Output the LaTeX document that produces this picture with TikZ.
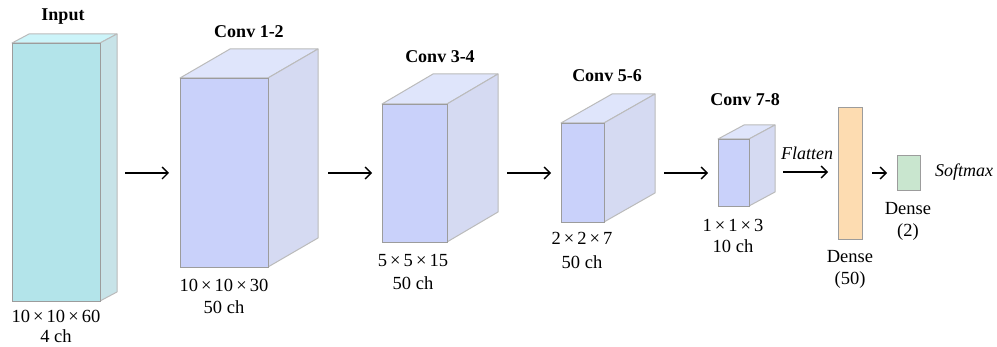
\documentclass[tikz,border=0pt]{standalone}
\usepackage{fontspec}
\setmainfont{Liberation Serif}
\usetikzlibrary{arrows.meta}
\definecolor{inF}{HTML}{B3E4EA}
\definecolor{inT}{HTML}{CCF4F9}
\definecolor{inS}{HTML}{C7E3E8}
\definecolor{cvF}{HTML}{C9D1FA}
\definecolor{cvT}{HTML}{DFE5FB}
\definecolor{cvS}{HTML}{D5DAF2}
\definecolor{denseO}{HTML}{FDDCB1}
\definecolor{denseG}{HTML}{C9E6CF}
\definecolor{edgeA}{HTML}{9C9C9C}
\definecolor{edgeB}{HTML}{BBBBBB}
\tikzset{
  face/.style={draw=edgeB, line width=1pt, line join=round},
  frontface/.style={draw=edgeA, line width=1pt, inner sep=0pt, anchor=north west},
  title/.style={font=\fontsize{18}{21}\selectfont\bfseries, inner sep=0pt},
  lbl/.style={font=\fontsize{18.5}{21}\selectfont, inner sep=0pt},
  itlbl/.style={font=\fontsize{18}{21}\selectfont\itshape, inner sep=0pt},
  conn/.style={line width=1.3pt, -{Straight Barb[length=6pt,width=12pt,line width=1.3pt]}},
}
% #1 name, #2 x, #3 y, #4 w, #5 h, #6 dx, #7 dy, #8 colour prefix
\newcommand\mycube[8]{%
  \draw[face, fill=#8T] (#2,#3) -- ++(#6,-#7) -- ++(#4,0) -- ++(-#6,#7) -- cycle;
  \draw[face, fill=#8S] (#2+#4,#3) -- ++(#6,-#7) -- ++(0,#5) -- ++(-#6,#7) -- cycle;
  \node[frontface, fill=#8F, minimum width=#4pt, minimum height=#5pt] (#1) at (#2,#3) {};
}
\begin{document}
\begin{tikzpicture}[x=1pt,y=-1pt]
\useasboundingbox (0,0) rectangle (997,347);
\fill[white] (0,0) rectangle (997,347);

\mycube{in}{12}{43}{88}{258}{17}{9}{in}
\mycube{c12}{180}{78}{88}{189}{50}{29}{cv}
\mycube{c34}{382}{104}{65}{138}{51}{30}{cv}
\mycube{c56}{561}{123}{43}{99}{51}{29}{cv}
\mycube{c78}{718}{139}{31}{67}{26}{14}{cv}

\node[frontface, fill=denseO, minimum width=24pt, minimum height=132pt] (d50) at (838,107) {};
\node[frontface, fill=denseG, minimum width=23pt, minimum height=35pt] (d2) at (897,155) {};

% titles
\node[title] (tin) at (63,17) {Input};
\node[title] (t12) at (249,32) {Conv 1-2};
\node[title] (t34) at (440,57) {Conv 3-4};
\node[title] (t56) at (607,76) {Conv 5-6};
\node[title] (t78) at (745,100) {Conv 7-8};

% dimension labels
\node[lbl] (lin1) at (56,316) {10\,×\,10\,×\,60};
\node[lbl] (lin2) at (56,336) {4 ch};
\node[lbl] (l121) at (224,285) {10\,×\,10\,×\,30};
\node[lbl] (l122) at (224,307) {50 ch};
\node[lbl] (l341) at (413,260) {5\,×\,5\,×\,15};
\node[lbl] (l342) at (413,283) {50 ch};
\node[lbl] (l561) at (582,238) {2\,×\,2\,×\,7};
\node[lbl] (l562) at (582,262) {50 ch};
\node[lbl] (l781) at (733,225) {1\,×\,1\,×\,3};
\node[lbl] (l782) at (733,246) {10 ch};
\node[lbl] (ld501) at (850,257) {Dense};
\node[lbl] (ld502) at (850,280) {(50)};
\node[lbl] (ld21) at (908,209) {Dense};
\node[lbl] (ld22) at (908,232) {(2)};
\node[itlbl] (flat) at (807,153) {Flatten};
\node[itlbl] (soft) at (964,172) {Softmax};

% arrow end points
\coordinate (a1s) at (125,173); \coordinate (a1e) at (169,173);
\coordinate (a2s) at (328,173); \coordinate (a2e) at (372,173);
\coordinate (a3s) at (507,173); \coordinate (a3e) at (551,173);
\coordinate (a4s) at (664,173); \coordinate (a4e) at (708,173);
\coordinate (a5s) at (783,172); \coordinate (a5e) at (828,172);
\coordinate (a6s) at (872,173); \coordinate (a6e) at (887,173);
\draw[conn] (a1s) -- (a1e);
\draw[conn] (a2s) -- (a2e);
\draw[conn] (a3s) -- (a3e);
\draw[conn] (a4s) -- (a4e);
\draw[conn] (a5s) -- (a5e);
\draw[conn] (a6s) -- (a6e);
\end{tikzpicture}
\end{document}
